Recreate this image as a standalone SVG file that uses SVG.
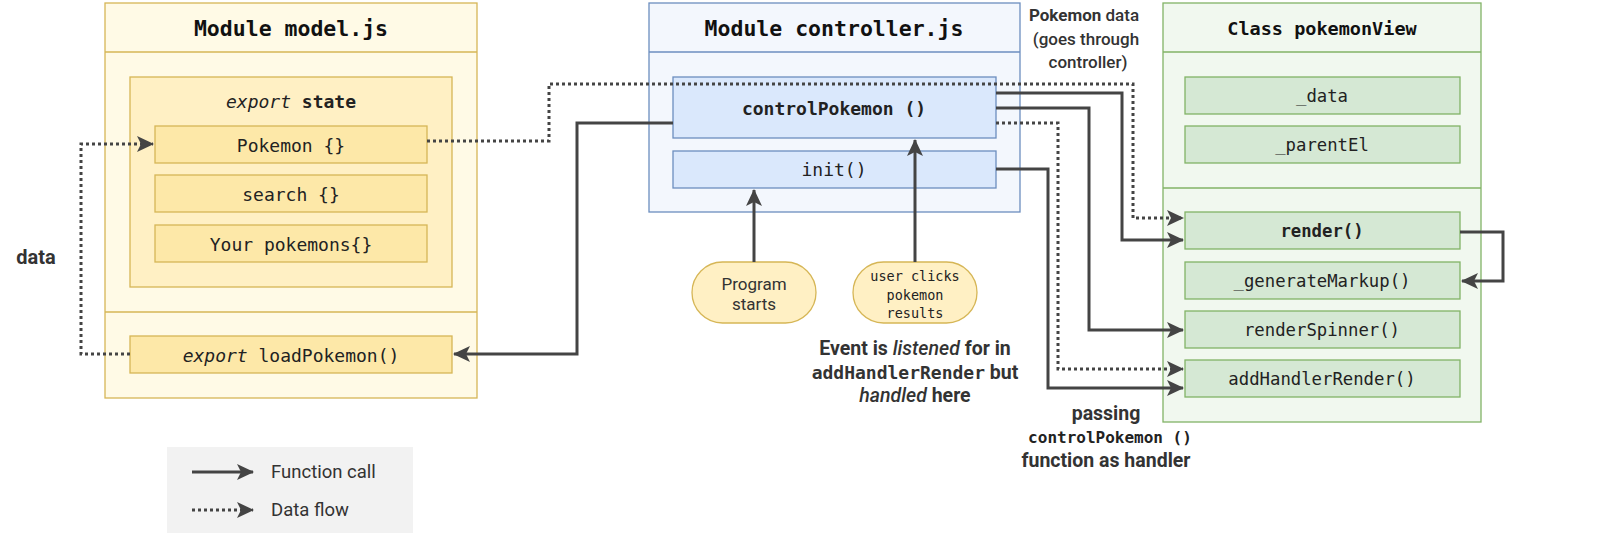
<svg xmlns="http://www.w3.org/2000/svg" width="1600" height="533" viewBox="0 0 1600 533">
<defs>
<marker id="arr" markerUnits="userSpaceOnUse" markerWidth="18" markerHeight="18" refX="16" refY="9" orient="auto">
<path d="M0,1 L17,9 L0,17 L4,9 z" fill="#444"/>
</marker>
<style>
.mono{font-family:"DejaVu Sans Mono","Liberation Mono",monospace;}
.title{font-family:"DejaVu Sans Mono",monospace;font-weight:bold;font-size:21.5px;fill:#111;}
.item{font-family:"DejaVu Sans Mono",monospace;font-size:18px;fill:#222;}
.vitem{font-family:"DejaVu Sans Mono",monospace;font-size:17.3px;fill:#222;}
.sans{font-family:Roboto,"Liberation Sans",sans-serif;fill:#333;}
.ymod{fill:#fffae6;stroke:#d6b656;stroke-width:1.3;}
.ystate{fill:#fff0c4;stroke:#d6b656;stroke-width:1.3;}
.yitem{fill:#fde8a8;stroke:#d6b656;stroke-width:1.3;}
.bmod{fill:#f3f7fd;stroke:#6c8ebf;stroke-width:1.3;}
.bitem{fill:#dae8fc;stroke:#6c8ebf;stroke-width:1.3;}
.gmod{fill:#f1f8ef;stroke:#82b366;stroke-width:1.3;}
.gitem{fill:#d5e8d4;stroke:#82b366;stroke-width:1.3;}
.solid{fill:none;stroke:#444;stroke-width:3;}
.dot{fill:none;stroke:#444;stroke-width:3;stroke-dasharray:3 3;}
text{dominant-baseline:central;text-anchor:middle;}
</style>
</defs>

<g id="model">
<rect class="ymod" x="105" y="3" width="372" height="395"/>
<line x1="105" y1="52" x2="477" y2="52" stroke="#d6b656" stroke-width="1.3"/>
<line x1="105" y1="312" x2="477" y2="312" stroke="#d6b656" stroke-width="1.3"/>
<text class="title" x="291" y="28">Module model.js</text>
<rect class="ystate" x="130" y="77" width="322" height="210"/>
<text class="item" x="291" y="101"><tspan font-style="italic">export</tspan> <tspan font-weight="bold">state</tspan></text>
<g id="pokemon"><rect class="yitem" x="155" y="126" width="272" height="37"/><text class="item" x="291" y="145">Pokemon {}</text></g>
<g id="search"><rect class="yitem" x="155" y="175" width="272" height="37"/><text class="item" x="291" y="194">search {}</text></g>
<g id="yours"><rect class="yitem" x="155" y="225" width="272" height="37"/><text class="item" x="291" y="244">Your pokemons{}</text></g>
<g id="loadPokemon"><rect class="yitem" x="130" y="336" width="322" height="37"/><text class="item" x="291" y="355"><tspan font-style="italic">export</tspan> loadPokemon()</text></g>
</g>

<g id="controller">
<rect class="bmod" x="649" y="3" width="371" height="209"/>
<line x1="649" y1="52" x2="1020" y2="52" stroke="#6c8ebf" stroke-width="1.3"/>
<text class="title" x="834" y="28">Module controller.js</text>
<g id="controlPokemon"><rect class="bitem" x="673" y="77" width="323" height="61"/><text class="item" font-weight="bold" x="834" y="108">controlPokemon ()</text></g>
<g id="init"><rect class="bitem" x="673" y="151" width="323" height="37"/><text class="item" x="834" y="169">init()</text></g>
</g>

<g id="view">
<rect class="gmod" x="1163" y="3" width="318" height="419"/>
<line x1="1163" y1="52" x2="1481" y2="52" stroke="#82b366" stroke-width="1.3"/>
<line x1="1163" y1="188" x2="1481" y2="188" stroke="#82b366" stroke-width="1.3"/>
<text class="title" x="1322" y="28" style="font-size:18.5px">Class pokemonView</text>
<g id="data"><rect class="gitem" x="1185" y="77" width="275" height="37"/><text class="vitem" x="1322" y="96">_data</text></g>
<g id="parentEl"><rect class="gitem" x="1185" y="126" width="275" height="37"/><text class="vitem" x="1322" y="145">_parentEl</text></g>
<g id="render"><rect class="gitem" x="1185" y="212" width="275" height="37"/><text class="vitem" font-weight="bold" x="1322" y="231">render()</text></g>
<g id="generateMarkup"><rect class="gitem" x="1185" y="262" width="275" height="37"/><text class="vitem" x="1322" y="281">_generateMarkup()</text></g>
<g id="renderSpinner"><rect class="gitem" x="1185" y="311" width="275" height="37"/><text class="vitem" x="1322" y="330">renderSpinner()</text></g>
<g id="addHandlerRender"><rect class="gitem" x="1185" y="360" width="275" height="37"/><text class="vitem" x="1322" y="379">addHandlerRender()</text></g>
</g>

<g id="programStarts">
<rect class="ystate" x="692" y="262" width="124" height="61" rx="30.5"/>
<text class="sans" font-size="17" x="754" y="284">Program</text>
<text class="sans" font-size="17" x="754" y="304">starts</text>
</g>
<g id="userClicks">
<rect class="ystate" x="853" y="262" width="124" height="61" rx="30.5"/>
<text class="mono" font-size="13.5" fill="#222" x="915" y="276">user clicks</text>
<text class="mono" font-size="13.5" fill="#222" x="915" y="295">pokemon</text>
<text class="mono" font-size="13.5" fill="#222" x="915" y="313">results</text>
</g>

<g id="connectors">
<path class="dot" d="M130,354 H81 V144 H153" marker-end="url(#arr)"/>
<path class="dot" d="M427,141 H549 V84 H1133 V218 H1183" marker-end="url(#arr)"/>
<path class="solid" d="M673,123 H577 V354 H454" marker-end="url(#arr)"/>
<path class="solid" d="M996,93 H1122 V240 H1183" marker-end="url(#arr)"/>
<path class="solid" d="M996,108 H1089 V330 H1183" marker-end="url(#arr)"/>
<path class="dot" d="M996,123 H1058 V369 H1183" marker-end="url(#arr)"/>
<path class="solid" d="M996,169 H1048 V388 H1183" marker-end="url(#arr)"/>
<path class="solid" d="M1460,232 H1503 V281 H1462" marker-end="url(#arr)"/>
<path class="solid" d="M754,262 V190" marker-end="url(#arr)"/>
<path class="solid" d="M915,262 V140" marker-end="url(#arr)"/>
</g>

<g id="labels">
<text class="sans" font-size="20" font-weight="bold" x="36" y="257">data</text>
<text class="sans" font-size="17" font-weight="bold" x="1084" y="15">Pokemon <tspan font-weight="500">data</tspan></text>
<text class="sans" font-size="17" font-weight="500" x="1086" y="39">(goes through</text>
<text class="sans" font-size="17" font-weight="500" x="1088" y="62">controller)</text>
<text class="sans" font-size="19.5" font-weight="bold" x="915" y="348">Event is <tspan font-style="italic" font-weight="500">listened</tspan> for in</text>
<text class="sans" font-size="19.5" font-weight="bold" x="915" y="372"><tspan class="mono" font-size="18">addHandlerRender</tspan> but</text>
<text class="sans" font-size="19.5" font-weight="bold" x="915" y="395"><tspan font-style="italic" font-weight="500">handled</tspan> here</text>
<text class="sans" font-size="19.5" font-weight="bold" x="1106" y="413">passing</text>
<text class="mono" font-size="16" font-weight="bold" fill="#222" x="1110" y="437">controlPokemon ()</text>
<text class="sans" font-size="19.5" font-weight="bold" x="1106" y="460">function as handler</text>
</g>

<g id="legend">
<rect x="167" y="447" width="246" height="86" fill="#f2f2f2"/>
<path class="solid" d="M192,472 H253" marker-end="url(#arr)"/>
<path class="dot" d="M192,510 H253" marker-end="url(#arr)"/>
<text class="sans" font-size="18.5" x="271" y="472" style="text-anchor:start">Function call</text>
<text class="sans" font-size="18.5" x="271" y="510" style="text-anchor:start">Data flow</text>
</g>
</svg>
